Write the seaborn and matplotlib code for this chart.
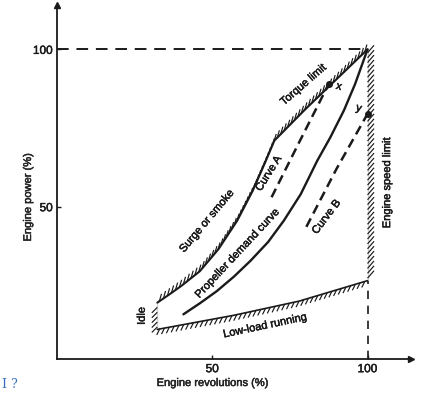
import numpy as np
import pandas as pd
import matplotlib
matplotlib.use("Agg")
import matplotlib.pyplot as plt
import matplotlib.patheffects as pe
from matplotlib.collections import LineCollection
import seaborn as sns

# Values (engine revolutions %, engine power %)
surge_x = [32.3, 36, 40, 46, 52, 58, 63, 67, 70, 80, 90, 100]
surge_y = [19.5, 22, 24.8, 29.5, 36.5, 45.5, 55, 64, 71, 81, 90.5, 100]
prop_x = [40.7, 46, 51.5, 57, 62.3, 68, 73, 78.5, 83.8, 88, 92.4, 96, 100]
prop_y = [15.8, 19.3, 23.2, 27.8, 32.8, 38.8, 45.5, 54, 64.6, 72, 80.6, 89, 100]
low_x = [32.3, 57, 78, 100]
low_y = [11, 15.5, 20, 26.5]
idle_x = [32.3, 32.3]
idle_y = [11, 19.5]
speed_x = [100, 100]
speed_y = [26.5, 100]
curve_a_x = [69.1, 78, 87.5]
curve_a_y = [53, 70.5, 89]
curve_b_x = [80.3, 90, 100]
curve_b_y = [43.6, 62, 79.5]
point_x = [87.5, 100]
point_y = [89, 79.5]
point_names = ["x", "y"]
ticks = [50, 100]

sns.set_theme(style="white")
plt.rcParams['font.family'] = ['Liberation Sans', 'DejaVu Sans']

fig = plt.figure(figsize=(4.28, 3.93), dpi=100)
ax = fig.add_axes([57 / 428, 34 / 393, 354 / 428, 354 / 393])
ax.set_xlim(0, 114)
ax.set_ylim(1.6, 114.1)

def curve(xs, ys, **kw):
    df = pd.DataFrame({"rev": xs, "power": ys})
    sns.lineplot(data=df, x="rev", y="power", sort=False, ax=ax, color="k", **kw)

def hatch(xs, ys, dx, dy, step=4.9, lw=0.85):
    # short slanted strokes along a boundary, spaced evenly in pixels
    pts = ax.transData.transform(np.column_stack([xs, ys]))
    seg = np.hypot(*np.diff(pts, axis=0).T)
    cum = np.concatenate([[0], np.cumsum(seg)])
    s = np.arange(step / 2, cum[-1], step)
    px = np.interp(s, cum, pts[:, 0])
    py = np.interp(s, cum, pts[:, 1])
    inv = ax.transData.inverted()
    a = inv.transform(np.column_stack([px, py]))
    b = inv.transform(np.column_stack([px + dx, py + dy]))
    ax.add_collection(LineCollection(np.stack([a, b], axis=1), colors="k", linewidths=lw))

# boundaries
curve(surge_x, surge_y, lw=1.5)
curve(low_x, low_y, lw=1.2)
curve(idle_x, idle_y, lw=1.2)
curve(speed_x, speed_y, lw=1.5)
curve(prop_x, prop_y, lw=1.7)
curve(curve_a_x, curve_a_y, lw=1.8, dashes=(3.8, 2.2))
curve(curve_b_x, curve_b_y, lw=1.8, dashes=(3.8, 2.2))

hatch(surge_x, surge_y, 2.2, 7.5)
hatch(low_x, low_y, -3, -6)
hatch(idle_x, idle_y, -5.5, -5.5)
hatch(speed_x, speed_y, 6.5, 7.5)

# reference dashes at 100 %
ax.plot([0, 100], [100, 100], color="k", lw=1.4, dashes=(6, 4))
ax.plot([100, 100], [1.6, 26.5], color="k", lw=1.2, dashes=(5, 4))

ax.scatter(point_x, point_y, s=16, color="k", zorder=5)

bold = [pe.withStroke(linewidth=0.35, foreground="k")]
txt = dict(fontsize=8, ha="center", va="center", color="k", rotation_mode="anchor",
           path_effects=bold)
ax.text(point_x[0] + 3.3, point_y[0] - 0.8, point_names[0], rotation=-15, **txt)
ax.text(point_x[1] - 2.8, point_y[1] + 1.8, point_names[1], rotation=-15, **txt)
ax.text(79.4, 88.8, "Torque limit", rotation=41, **txt)
ax.text(48.3, 45.5, "Surge or smoke", rotation=50, **txt)
ax.text(68.2, 60.6, "Curve A", rotation=58, **txt)
ax.text(58.2, 35.3, "Propeller demand curve", rotation=47, **txt)
ax.text(86.8, 46.8, "Curve B", rotation=53, **txt)
ax.text(27.3, 15.3, "Idle", rotation=90, **txt)
ax.text(67.1, 12.2, "Low-load running", rotation=12, **txt)
ax.text(106.3, 57.7, "Engine speed limit", rotation=90, **txt)

# axes with arrow heads
for side in ["top", "right"]:
    ax.spines[side].set_visible(False)
for side in ["left", "bottom"]:
    ax.spines[side].set_color("k")
    ax.spines[side].set_linewidth(1.3)
ax.plot(1, 1.6, ">k", ms=4, transform=ax.get_yaxis_transform(), clip_on=False)
ax.plot(0, 1, "^k", ms=4, transform=ax.get_xaxis_transform(), clip_on=False)

ax.set_xticks(ticks)
ax.set_yticks(ticks)
ax.tick_params(direction="in", length=3, width=1, colors="k", labelsize=8.5, pad=3,
               bottom=True, left=True)
for lab in ax.get_xticklabels() + ax.get_yticklabels():
    lab.set_path_effects(bold)
ax.set_xlabel("")
ax.set_ylabel("")
fig.text(213 / 428, 1 - 383 / 393, "Engine revolutions (%)", fontsize=8, ha="center",
         va="center", path_effects=bold)
fig.text(28 / 428, 1 - 197 / 393, "Engine power (%)", fontsize=8, ha="center", va="center",
         rotation=90, path_effects=bold)
fig.text(2 / 428, 1 - 385 / 393, "I ?", fontsize=9, color="#3a6fc4", family="serif",
         ha="left", va="center")

fig.savefig("out.png", dpi=100)
